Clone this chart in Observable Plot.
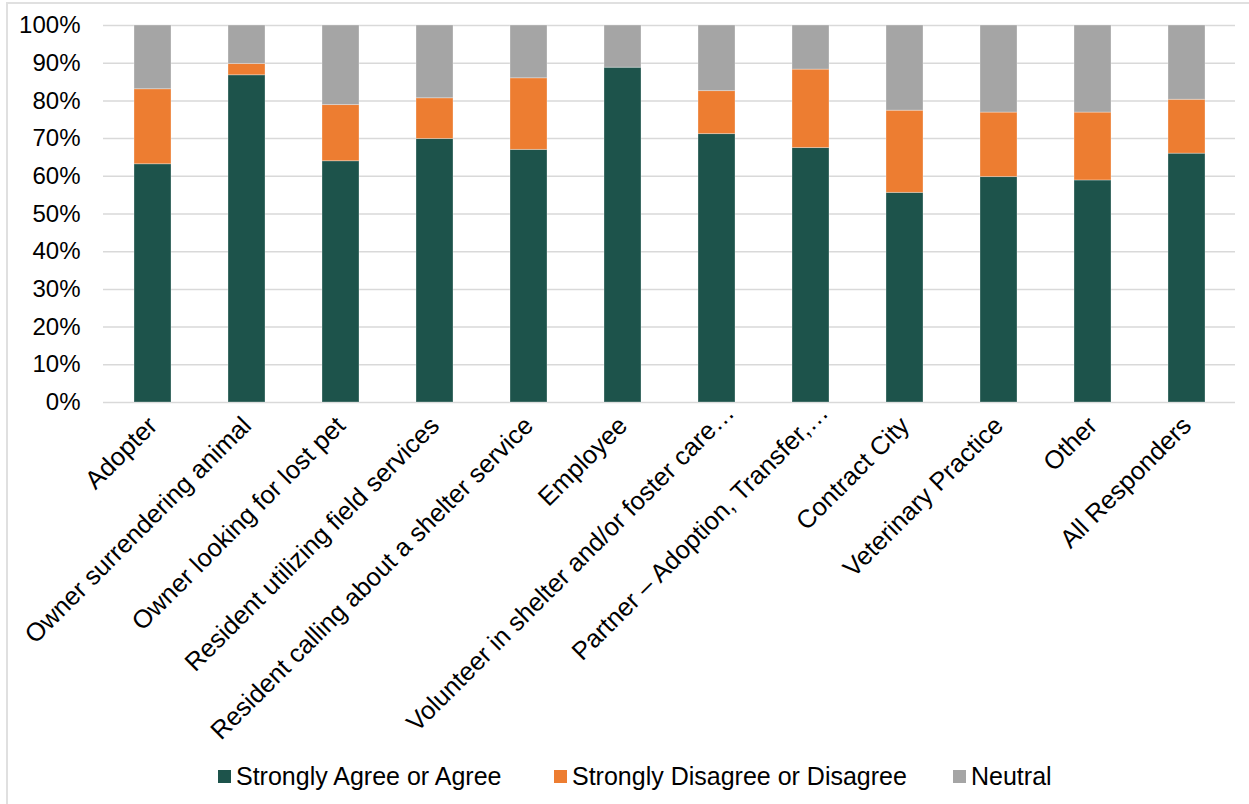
<!DOCTYPE html>
<html>
<head>
<meta charset="utf-8">
<script src="https://cdn.jsdelivr.net/npm/d3@7"></script>
<script src="https://cdn.jsdelivr.net/npm/@observablehq/plot@0.6"></script>
<style>
  body { margin: 0; background: #fff; font-family: "Liberation Sans", Arial, sans-serif; }
  #frame { position: absolute; left: 6px; top: 2px; width: 1400px; height: 1000px;
           border-left: 2px solid #e0e0e0; border-top: 2px solid #e0e0e0; }
  #chart { position: absolute; left: 0; top: 0; }
  #legend { position: absolute; left: 0; top: 762px; width: 1249px; height: 28px; }
  .item { position: absolute; top: 0; height: 28px; display: flex; align-items: center; }
  .sw { width: 13px; height: 13px; margin-right: 5px; flex: none; }
  .lbl { font-size: 25px; white-space: nowrap; color: #000; }
</style>
</head>
<body>
<div id="frame"></div>
<div id="chart"></div>
<div id="legend"></div>
<script>
// Respondent groups along the x axis (long names shortened as displayed)
const categories = [
  "Adopter",
  "Owner surrendering animal",
  "Owner looking for lost pet",
  "Resident utilizing field services",
  "Resident calling about a shelter service",
  "Employee",
  "Volunteer in shelter and/or foster care…",
  "Partner – Adoption, Transfer,…",
  "Contract City",
  "Veterinary Practice",
  "Other",
  "All Responders"
];

// Share of responses per group, in percent
const agree    = [63.2, 86.8, 64.0, 69.9, 67.0, 88.8, 71.2, 67.5, 55.6, 59.8, 58.9, 66.0];
const disagree = [19.9,  3.0, 14.9, 10.8, 19.0,  0.0, 11.4, 20.8, 21.8, 17.1, 18.0, 14.3];
const neutral  = [16.9, 10.2, 21.1, 19.3, 14.0, 11.2, 17.4, 11.7, 22.6, 23.1, 23.1, 19.7];

const seriesNames  = ["Strongly Agree or Agree", "Strongly Disagree or Disagree", "Neutral"];
const seriesColors = ["#1d534b", "#ed7d31", "#a5a5a5"];

const yTicks = [0, 0.1, 0.2, 0.3, 0.4, 0.5, 0.6, 0.7, 0.8, 0.9, 1];

// Long-format rows; stacking follows input order (agree at the bottom)
const seriesValues = [agree, disagree, neutral];
const rows = categories.flatMap((category, i) =>
  seriesNames.map((series, s) => ({ category, series, value: seriesValues[s][i] / 100 }))
);

// Truncated names hang a little further past their tick than the others
const truncated = categories.filter(c => c.endsWith("…"));
const full = categories.filter(c => !c.endsWith("…"));
const xAxisStyle = { tickRotate: -45, tickSize: 0, tickPadding: 19, fontSize: 25.5, label: null };

const W = 1249, H = 740;
const chart = Plot.plot({
  width: W,
  height: H,
  marginTop: 25,
  marginLeft: 103,
  marginRight: 14,
  marginBottom: H - 402,
  style: { fontFamily: "'Liberation Sans', Arial, sans-serif", background: "transparent", overflow: "visible", color: "#000" },
  x: { domain: categories, paddingInner: 0.61, paddingOuter: 0.305, label: null },
  y: { domain: [0, 1], label: null },
  color: { domain: seriesNames, range: seriesColors },
  marks: [
    Plot.gridY(yTicks, { stroke: "#d9d9d9", strokeOpacity: 1, strokeWidth: 1.5 }),
    Plot.barY(rows, {
      x: "category", y: "value", z: "series", fill: "series",
      stroke: "#ffffff", strokeOpacity: 0.3, strokeWidth: 1
    }),
    Plot.axisY(yTicks, {
      tickSize: 0, tickPadding: 23, fontSize: 24,
      tickFormat: d => Math.round(d * 100) + "%", label: null
    }),
    Plot.axisX(full, xAxisStyle),
    Plot.axisX(truncated, { ...xAxisStyle, dx: 13, dy: -13 })
  ]
});
document.getElementById("chart").appendChild(chart);

// Legend built from the same series names and colours
const legend = document.getElementById("legend");
const legendLeft = [218, 554, 953];
seriesNames.forEach((name, i) => {
  const item = document.createElement("div");
  item.className = "item";
  item.style.left = legendLeft[i] + "px";
  const sw = document.createElement("span");
  sw.className = "sw";
  sw.style.background = seriesColors[i];
  const lbl = document.createElement("span");
  lbl.className = "lbl";
  lbl.textContent = name;
  item.append(sw, lbl);
  legend.appendChild(item);
});
</script>
</body>
</html>
